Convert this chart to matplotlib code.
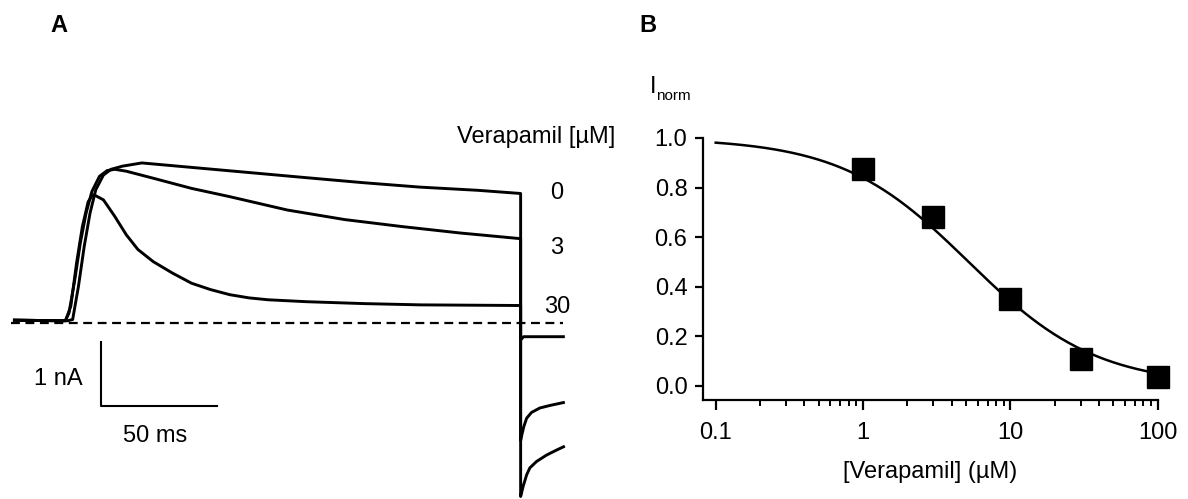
import numpy as np
import matplotlib
matplotlib.use("Agg")
from matplotlib import pyplot as plt
from matplotlib.ticker import FixedLocator, NullFormatter

plt.rcParams["font.family"] = ["Liberation Sans", "DejaVu Sans"]

# ---- panel A: current traces (time in ms, current in nA) ----
t_0uM = [-21.6, 0.0, 2.0, 4.2, 6.7, 9.2, 11.7, 14.2, 17.5, 20.8, 25.8, 34.1, 55.6, 80.2,
         104.7, 129.7, 154.3, 179.3, 197.8,
         197.8, 198.9, 200.4, 201.8, 204.7, 209.0, 213.4, 216.9]
i_0uM = [0.04, 0.03, 0.03, 0.05, 0.57, 1.20, 1.72, 2.09, 2.32, 2.41, 2.46, 2.51, 2.44, 2.36,
         2.28, 2.20, 2.13, 2.08, 2.03,
         -2.73, -2.57, -2.39, -2.28, -2.18, -2.08, -2.00, -1.94]

t_3uM = [-21.6, 0.0, 1.0, 2.6, 5.1, 7.5, 10.0, 12.5, 15.8, 19.1, 22.4, 27.4, 39.0, 55.6,
         72.1, 97.0, 121.8, 146.6, 171.5, 197.8,
         197.8, 198.2, 199.2, 200.4, 202.5, 206.1, 210.5, 216.9]
i_3uM = [0.04, 0.03, 0.03, 0.15, 0.67, 1.25, 1.72, 2.06, 2.30, 2.39, 2.41, 2.38, 2.27, 2.11,
         1.98, 1.77, 1.62, 1.51, 1.41, 1.32,
         -1.85, -1.78, -1.63, -1.50, -1.41, -1.34, -1.30, -1.25]

t_30uM = [-21.6, 0.0, 1.2, 3.4, 5.9, 8.4, 10.9, 12.5, 13.4, 17.5, 22.4, 27.4, 32.4, 39.0,
          47.3, 55.6, 63.8, 72.1, 80.4, 88.7, 105.2, 130.1, 154.7, 197.8,
          197.8, 199.1, 216.9]
i_30uM = [0.04, 0.03, 0.04, 0.26, 0.94, 1.51, 1.90, 1.99, 2.01, 1.93, 1.67, 1.38, 1.15, 0.96,
          0.78, 0.62, 0.52, 0.44, 0.39, 0.36, 0.33, 0.30, 0.28, 0.27,
          -0.27, -0.22, -0.22]

trace_labels = ["0", "3", "30"]
label_y = [2.03, 1.18, 0.25]

# ---- panel B: concentration-response ----
conc = [1, 3, 10, 30, 100]
i_norm = [0.875, 0.68, 0.35, 0.108, 0.034]
ic50 = 5.2
hill = 1.0

fig = plt.figure(figsize=(11.88, 4.99), dpi=100)

axA = fig.add_axes([0, 0, 600 / 1188, 1])
axA.set_xlim(-27.2, 232.1)
axA.set_ylim(-2.77, 5.07)
axA.axis("off")
for t, i in [(t_0uM, i_0uM), (t_3uM, i_3uM), (t_30uM, i_30uM)]:
    axA.plot(t, i, color="black", lw=2.1, solid_joinstyle="round", solid_capstyle="butt")
axA.plot([-22.5, 216.0], [0, 0], color="black", lw=1.6, ls=(0, (4, 2.5)))
for lab, y in zip(trace_labels, label_y):
    axA.text(213.5, y, lab, fontsize=17, ha="center", va="center")
# scale bar
axA.plot([16.4, 16.4, 66.4], [-0.31, -1.31, -1.31], color="black", lw=1.5)
axA.text(8.6, -0.88, "1 nA", fontsize=17, ha="right", va="center")
axA.text(39.8, -1.78, "50 ms", fontsize=17, ha="center", va="center")

fig.text(615 / 1188, 1 - 137 / 499, "Verapamil [µM]", fontsize=17, ha="right", va="center")
fig.text(59 / 1188, 1 - 25.5 / 499, "A", fontsize=17, fontweight="bold", ha="center", va="center")
fig.text(648 / 1188, 1 - 25.5 / 499, "B", fontsize=17, fontweight="bold", ha="center", va="center")

axB = fig.add_axes([702.7 / 1188, 99 / 499, 455 / 1188, 262 / 499])
axB.set_xscale("log")
axB.set_xlim(0.0816, 100)
axB.set_ylim(-0.058, 1.0)
xs = np.logspace(-1, 2, 300)
axB.plot(xs, 1 / (1 + (xs / ic50) ** hill), color="black", lw=1.8)
axB.plot(conc, i_norm, ls="none", marker="s", ms=16, color="black", clip_on=False)
for s in ["top", "right"]:
    axB.spines[s].set_visible(False)
for s in ["left", "bottom"]:
    axB.spines[s].set_linewidth(1.6)
axB.xaxis.set_major_locator(FixedLocator([0.1, 1, 10, 100]))
axB.set_xticklabels(["0.1", "1", "10", "100"])
minors = [m * d for d in [0.1, 1, 10] for m in range(2, 10)]
axB.xaxis.set_minor_locator(FixedLocator(minors))
axB.xaxis.set_minor_formatter(NullFormatter())
axB.set_yticks([0, 0.2, 0.4, 0.6, 0.8, 1.0])
axB.set_yticklabels(["0.0", "0.2", "0.4", "0.6", "0.8", "1.0"])
axB.tick_params(which="major", length=6, width=1.6, labelsize=17, pad=5)
axB.tick_params(axis="x", which="major", length=7, pad=9)
axB.tick_params(which="minor", length=4, width=1.4)
axB.set_xlabel("[Verapamil] (µM)", fontsize=17, labelpad=12)
fig.text(650 / 1188, 1 - 87 / 499, "I", fontsize=17, ha="left", va="center")
fig.text(656 / 1188, 1 - 96 / 499, "norm", fontsize=11, ha="left", va="center")

fig.savefig("out.png", dpi=100)
